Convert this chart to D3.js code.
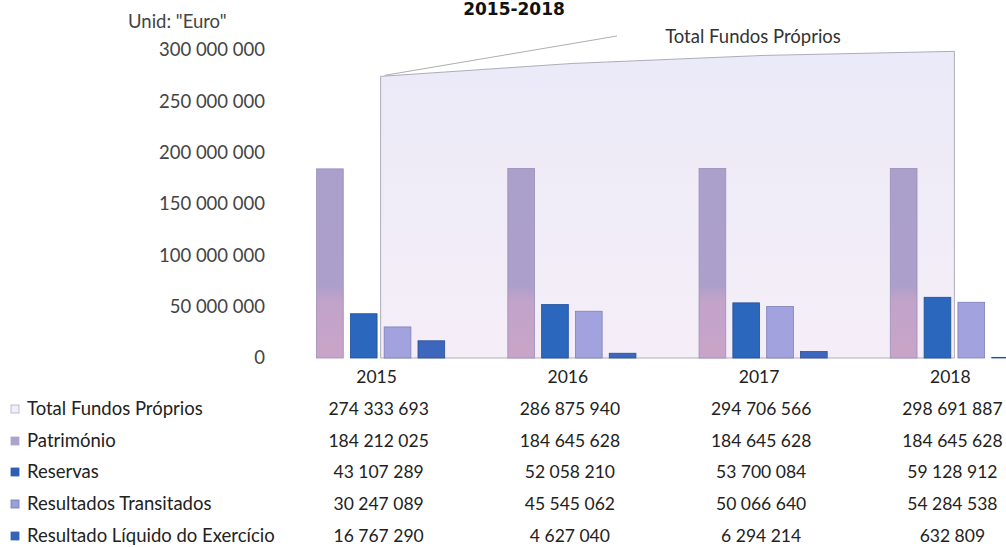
<!DOCTYPE html>
<html>
<head>
<meta charset="utf-8">
<script src="https://cdn.jsdelivr.net/npm/d3@7"></script>
<style>
	body { margin: 0; background: #fff; }
	svg { display: block; font-family: Lato, "Open Sans", sans-serif; }
</style>
</head>
<body>
<div id="chart"></div>
<script>
var years = ["2015", "2016", "2017", "2018"];
var totalFundos = [274333693, 286875940, 294706566, 298691887];
var patrimonio = [184212025, 184645628, 184645628, 184645628];
var reservas = [43107289, 52058210, 53700084, 59128912];
var resTransitados = [30247089, 45545062, 50066640, 54284538];
var resLiquido = [16767290, 4627040, 6294214, 632809];
var seriesNames = ["Total Fundos Próprios", "Património", "Reservas",
		"Resultados Transitados", "Resultado Líquido do Exercício"];
var yTicks = [0, 50000000, 100000000, 150000000, 200000000, 250000000, 300000000];

var W = 1006, H = 547, textColor = "#222";
var fmt = d3.formatLocale({decimal: ",", thousands: " ", grouping: [3], currency: ["", ""]}).format(",d");

var barSeries = [
	{name: seriesNames[1], values: patrimonio, fill: "url(#gradPat)", stroke: "#9b8fb8"},
	{name: seriesNames[2], values: reservas, fill: "#2a67bd", stroke: "#1f4f98"},
	{name: seriesNames[3], values: resTransitados, fill: "#a2a2de", stroke: "#7d7fb8"},
	{name: seriesNames[4], values: resLiquido, fill: "#3c67bd", stroke: "#2b4f98"}
];

var svg = d3.select("#chart").append("svg").attr("width", W).attr("height", H);
var defs = svg.append("defs");

var g1 = defs.append("linearGradient").attr("id", "gradPat")
		.attr("x1", "0%").attr("y1", "0%").attr("x2", "0%").attr("y2", "100%");
g1.append("stop").attr("offset", "0%").attr("stop-color", "#ab9fcc");
g1.append("stop").attr("offset", "62%").attr("stop-color", "#ad9fcb");
g1.append("stop").attr("offset", "70%").attr("stop-color", "#c2a3c9");
g1.append("stop").attr("offset", "100%").attr("stop-color", "#c9a4c8");

var g2 = defs.append("linearGradient").attr("id", "gradArea")
		.attr("x1", "0%").attr("y1", "0%").attr("x2", "0%").attr("y2", "100%");
g2.append("stop").attr("offset", "0%").attr("stop-color", "#ebeaf8");
g2.append("stop").attr("offset", "100%").attr("stop-color", "#f5eef7");

var x0 = d3.scaleBand().domain(years).range([285, 1050])
		.paddingInner(0.33).paddingOuter(0.165);
var x1 = d3.scaleBand().domain(barSeries.map(function(s) { return s.name; }))
		.range([0, x0.bandwidth()]).paddingInner(0.21);
var y = d3.scaleLinear().domain([0, 300000000]).range([358, 50]);

// title (only its lower edge shows in the original)
svg.append("text").attr("x", 514).attr("y", 15).attr("text-anchor", "middle")
		.attr("font-family", "'DejaVu Sans', sans-serif").attr("font-weight", "bold")
		.attr("font-size", "17px").style("fill", "#111").text("2015-2018");

svg.append("text").attr("x", 128).attr("y", 28).attr("font-size", "18.5px")
		.style("fill", "#444").text('Unid: "Euro"');

// y axis labels only
var yAxis = d3.axisLeft(y).tickValues(yTicks).tickFormat(fmt).tickSize(0).tickPadding(0);
var yg = svg.append("g").attr("transform", "translate(265,0)").call(yAxis);
yg.select(".domain").remove();
yg.selectAll("text").attr("font-size", "18.5px").attr("font-family", "Lato, sans-serif")
		.style("fill", "#444");

// total area
var cx = function(i) { return x0(years[i]) + x0.bandwidth() / 2; };
var area = d3.area().x(function(d, i) { return cx(i); })
		.y0(y(0)).y1(function(d) { return y(d); });
svg.append("path").datum(totalFundos).attr("d", area)
		.attr("fill", "url(#gradArea)").attr("stroke", "#9a9aa8")
		.attr("stroke-width", 0.8);

// series label with leader line
svg.append("line").attr("x1", cx(0) + 4).attr("y1", y(totalFundos[0]) - 1)
		.attr("x2", 617).attr("y2", 36).attr("stroke", "#999").attr("stroke-width", 0.8);
svg.append("text").attr("x", 753).attr("y", 43).attr("text-anchor", "middle")
		.attr("font-size", "18.5px").style("fill", "#333").text(seriesNames[0]);

// bars
var groups = svg.append("g").selectAll("g").data(years).join("g")
		.attr("transform", function(d) { return "translate(" + x0(d) + ",0)"; });
groups.selectAll("rect").data(function(d, i) {
	return barSeries.map(function(s) { return {s: s, v: s.values[i]}; });
}).join("rect")
		.attr("x", function(d) { return x1(d.s.name); })
		.attr("y", function(d) { return y(d.v); })
		.attr("width", x1.bandwidth())
		.attr("height", function(d) { return y(0) - y(d.v); })
		.attr("fill", function(d) { return d.s.fill; })
		.attr("stroke", function(d) { return d.s.stroke; })
		.attr("stroke-width", 0.8);

// year labels
svg.append("g").selectAll("text").data(years).join("text")
		.attr("x", function(d, i) { return cx(i) - 4; }).attr("y", 383)
		.attr("text-anchor", "middle").attr("font-size", "17.5px")
		.style("fill", textColor).text(function(d) { return d; });

// data table
var rows = [
	{name: seriesNames[0], values: totalFundos, fill: "#f1effa", stroke: "#b0b0c0"},
	{name: seriesNames[1], values: patrimonio, fill: "#aaa4cf", stroke: "#aaa4cf"},
	{name: seriesNames[2], values: reservas, fill: "#2d60b3", stroke: "#2d60b3"},
	{name: seriesNames[3], values: resTransitados, fill: "#9aa0d8", stroke: "#6f78b0"},
	{name: seriesNames[4], values: resLiquido, fill: "#3565ba", stroke: "#3565ba"}
];
var rowY = [409, 441, 472, 504, 536];
var tbl = svg.append("g").selectAll("g").data(rows).join("g")
		.attr("transform", function(d, i) { return "translate(0," + rowY[i] + ")"; });
tbl.append("rect").attr("x", 11).attr("y", -4).attr("width", 8).attr("height", 8)
		.attr("fill", function(d) { return d.fill; })
		.attr("stroke", function(d) { return d.stroke; }).attr("stroke-width", 0.8);
tbl.append("text").attr("x", 27).attr("y", 6).attr("font-size", "18.5px")
		.style("fill", textColor).text(function(d) { return d.name; });
tbl.selectAll("text.val").data(function(d) { return d.values; }).join("text")
		.attr("class", "val")
		.attr("x", function(d, i) { return cx(i) - 2; }).attr("y", 6)
		.attr("text-anchor", "middle").attr("font-size", "17.5px")
		.style("fill", textColor).text(function(d) { return fmt(d); });
</script>
</body>
</html>
